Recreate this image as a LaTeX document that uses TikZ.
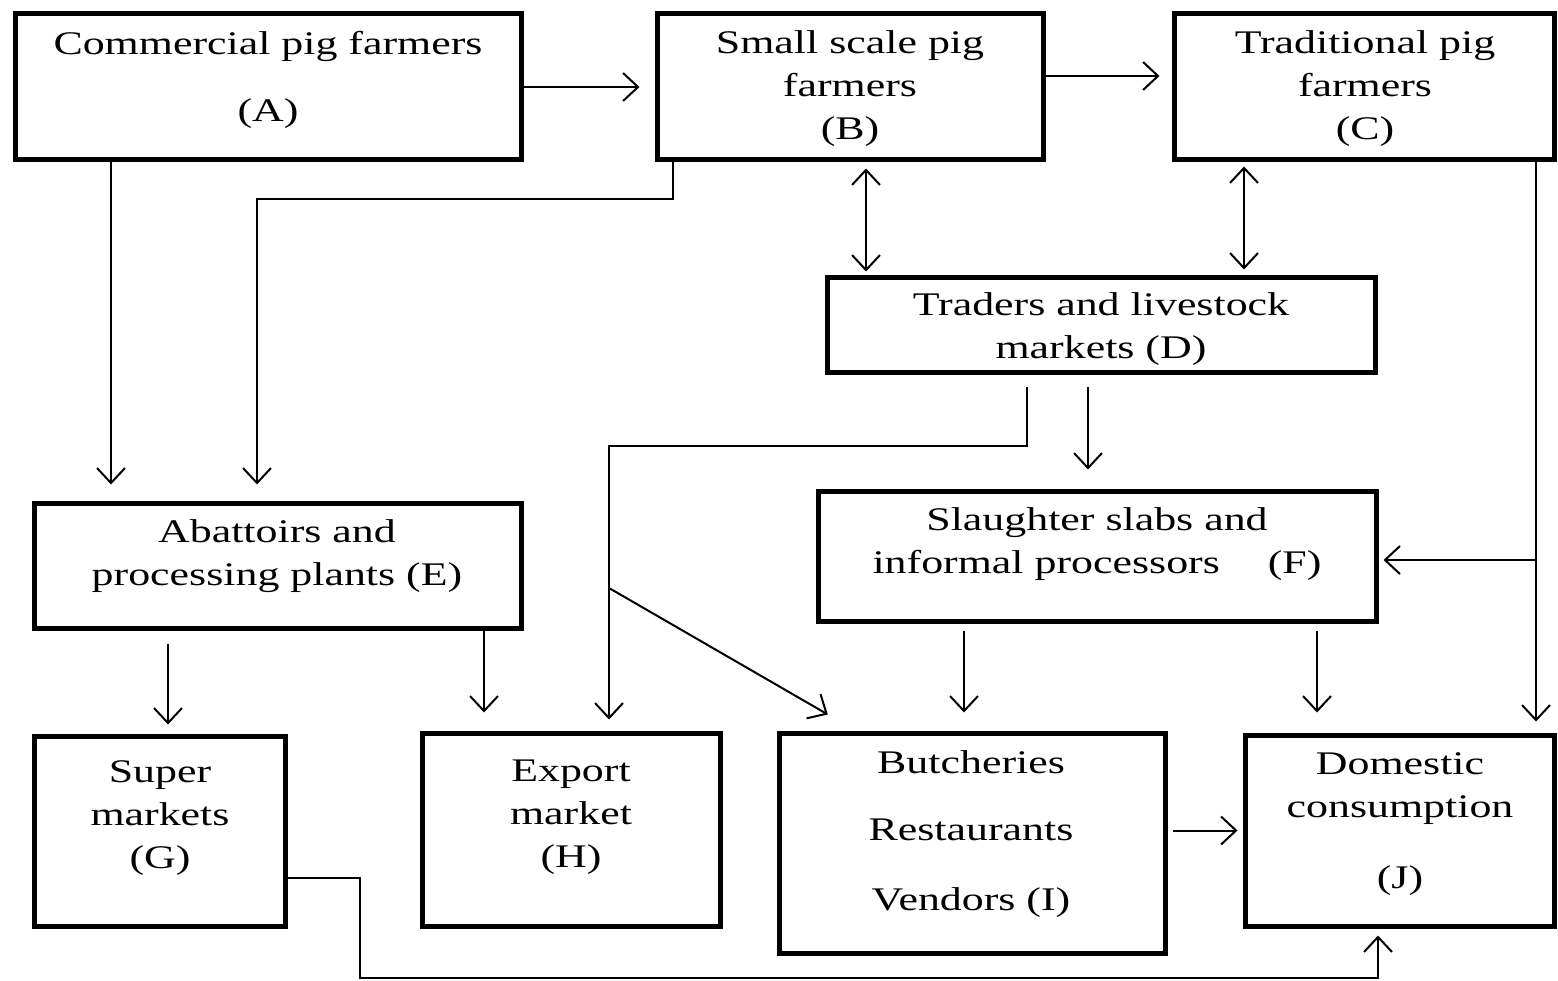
\documentclass[tikz,border=0pt]{standalone}
\usepackage{fontspec}
\setmainfont{Liberation Serif}[FakeStretch=1.33]
\usetikzlibrary{arrows.meta}
\begin{document}
\begin{tikzpicture}[x=1pt,y=-1pt,
  box/.style={draw, line width=5pt, inner sep=0pt},
  txt/.style={align=center, inner sep=0pt, font=\fontsize{33}{43}\selectfont},
  tip/.tip={Straight Barb[length=15pt,width=28pt]},
  arr/.style={line width=2pt, -tip},
  dbl/.style={line width=2pt, tip-tip}]
\useasboundingbox (0,0) rectangle (1558,981);
% boxes
\node[box, minimum width=506pt, minimum height=146pt] (A) at (268,87) {};
\node[box, minimum width=386pt, minimum height=146pt] (B) at (850,87) {};
\node[box, minimum width=380pt, minimum height=146pt] (C) at (1364,87) {};
\node[box, minimum width=548pt, minimum height=95pt] (D) at (1101,325.5) {};
\node[box, minimum width=487pt, minimum height=125pt] (E) at (277.5,565.5) {};
\node[box, minimum width=558pt, minimum height=130pt] (F) at (1097,556) {};
\node[box, minimum width=251pt, minimum height=190pt] (G) at (159.5,831) {};
\node[box, minimum width=298pt, minimum height=193pt] (H) at (571,829.5) {};
\node[box, minimum width=386pt, minimum height=220pt] (I) at (972,843) {};
\node[box, minimum width=309pt, minimum height=191pt] (J) at (1399.5,830.5) {};
% texts
\node[txt] (At) at (268,79.5) {Commercial pig farmers\\[24pt](A)};
\node[txt] (Bt) at (850,88.5) {Small scale pig\\farmers\\(B)};
\node[txt] (Ct) at (1365,88.5) {Traditional pig\\farmers\\(C)};
\node[txt] (Dt) at (1101,329.5) {Traders and livestock\\markets (D)};
\node[txt] (Et) at (277,556.5) {Abattoirs and\\processing plants (E)};
\node[txt] (Ft) at (1097,544.5) {Slaughter slabs and\\informal processors\hspace{48pt}(F)};
\node[txt] (Gt) at (160,818) {Super\\markets\\(G)};
\node[txt] (Ht) at (571,817.5) {Export\\market\\(H)};
\node[txt] (It) at (971,834.5) {Butcheries\\[24pt]Restaurants\\[27pt]Vendors (I)};
\node[txt] (Jt) at (1400,824.5) {Domestic\\consumption\\[28pt](J)};
% helper coordinates
\coordinate (xae) at (111,0);
\coordinate (xb1) at (673,0);
\coordinate (xe2) at (257,0);
\coordinate (xbd) at (866,0);
\coordinate (xcd) at (1244,0);
\coordinate (xdf) at (1088,0);
\coordinate (xdh) at (1027,0);
\coordinate (xh) at (609,0);
\coordinate (dhb) at (609,588);
\coordinate (xcj) at (1536,0);
\coordinate (cjb) at (1536,560);
\coordinate (xeg) at (168,0);
\coordinate (xeh) at (484,0);
\coordinate (xfi) at (964,0);
\coordinate (xfj) at (1317,0);
\coordinate (gj1) at (360,878);
\coordinate (gj2) at (1378,978);
% connectors
\draw[arr, shorten >=15pt] (A.east) -- (B.west);
\draw[arr, shorten >=12pt] ([yshift=11pt]B.east) -- ([yshift=11pt]C.west);
\draw[arr, shorten >=16pt] (A.south -| xae) -- (E.north -| xae);
\draw[arr, shorten >=16pt] (B.south -| xb1) -- ++(0,37) -| (E.north -| xe2);
\draw[dbl, shorten <=6pt, shorten >=4pt] (B.south -| xbd) -- (D.north -| xbd);
\draw[dbl, shorten <=4pt, shorten >=6pt] (C.south -| xcd) -- (D.north -| xcd);
\draw[arr, shorten <=12pt, shorten >=19pt] (D.south -| xdf) -- (F.north -| xdf);
\draw[arr, shorten <=12pt, shorten >=11pt] (D.south -| xdh) -- ++(0,70) -| (H.north -| xh);
\draw[arr, shorten >=32pt] (dhb) -- ([xshift=79pt]I.north west);
\draw[arr, shorten >=11pt] (C.south -| xcj) -- (J.north -| xcj);
\draw[arr, shorten >=5pt] (cjb) -- (F.east |- cjb);
\draw[arr, shorten <=13pt, shorten >=9pt] (E.south -| xeg) -- (G.north -| xeg);
\draw[arr, shorten >=18pt] (E.south -| xeh) -- (H.north -| xeh);
\draw[arr, shorten <=7pt, shorten >=18pt] (F.south -| xfi) -- (I.north -| xfi);
\draw[arr, shorten <=7pt, shorten >=20pt] (F.south -| xfj) -- (J.north -| xfj);
\draw[arr, shorten <=5pt, shorten >=5pt] (I.east |- J.west) -- (J.west);
\draw[arr, shorten >=7pt] (G.east |- gj1) -- (gj1) |- (gj2) -- (J.south -| gj2);
\end{tikzpicture}
\end{document}
